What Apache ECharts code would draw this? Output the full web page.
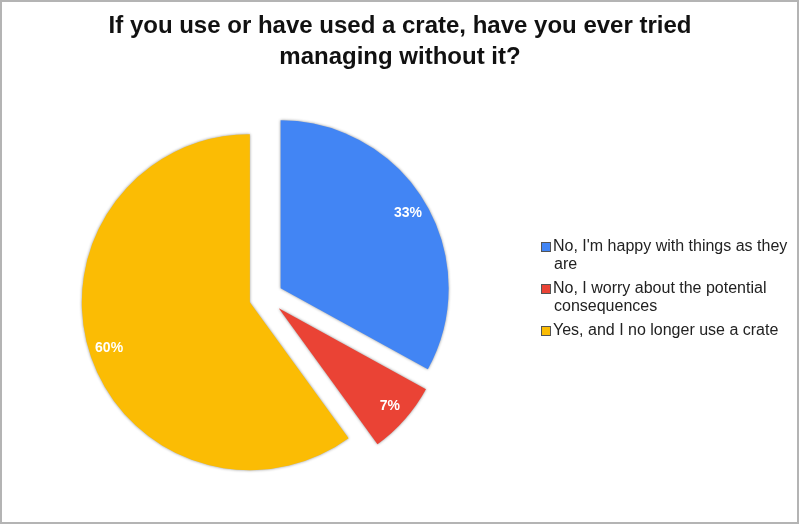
<!DOCTYPE html>
<html>
<head>
<meta charset="utf-8">
<script src="https://cdn.jsdelivr.net/npm/echarts@6/dist/echarts.min.js"></script>
<style>
html,body{margin:0;padding:0;background:#fff;}
#chart{width:800px;height:525px;}
</style>
</head>
<body>
<div id="chart"></div>
<script>
const titleLines = ['If you use or have used a crate, have you ever tried', 'managing without it?'];
const categories = ["No, I'm happy with things as they are", "No, I worry about the potential consequences", "Yes, and I no longer use a crate"];
const legendLines = [["No, I'm happy with things as they", "are"], ["No, I worry about the potential", "consequences"], ["Yes, and I no longer use a crate"]];
const values = [33, 7, 60];
const colors = ['#4285F4', '#EA4335', '#FBBC04'];

const chart = echarts.init(document.getElementById('chart'), null, {renderer: 'canvas'});

const pieData = categories.map((name, i) => ({
  name: name,
  value: values[i],
  selected: true,
  itemStyle: {color: colors[i]}
}));
const labelData = categories.map((name, i) => ({
  name: name,
  value: values[i],
  selected: true
}));

const rich = {
  t: {fontSize: 16, color: '#222', lineHeight: 18, fontFamily: 'Liberation Sans, Arial, sans-serif'},
  sp: {width: 12, height: 8}
};
colors.forEach((c, i) => {
  rich['b' + i] = {width: 8, height: 8, backgroundColor: c, borderColor: '#555', borderWidth: 1};
});
rich.g = {width: 3, height: 8};

const pieCenter = [266, 297];
const offset = 17;

chart.setOption({
  animation: false,
  backgroundColor: '#fff',
  title: {
    text: titleLines.join('\n'),
    left: 395,
    top: 6,
    textAlign: 'center',
    textStyle: {
      fontFamily: 'Liberation Sans, Arial, sans-serif',
      fontWeight: 'bold',
      fontSize: 24,
      lineHeight: 31,
      color: '#111'
    }
  },
  legend: {
    orient: 'vertical',
    left: 532,
    top: 233,
    icon: 'none',
    itemWidth: 0,
    itemHeight: 8,
    itemGap: 6,
    selectedMode: false,
    data: categories,
    formatter: function (name) {
      const i = categories.indexOf(name);
      const lines = legendLines[i];
      let s = '{b' + i + '|}{g|}{t|' + lines[0] + '}';
      for (let k = 1; k < lines.length; k++) {
        s += '\n{sp|}{t|' + lines[k] + '}';
      }
      return s;
    },
    textStyle: {rich: rich, fontSize: 16, lineHeight: 18, color: '#222'}
  },
  series: [
    {
      type: 'pie',
      center: pieCenter,
      radius: 168,
      startAngle: 90,
      clockwise: true,
      selectedMode: 'multiple',
      selectedOffset: offset,
      silent: true,
      label: {show: false},
      labelLine: {show: false},
      itemStyle: {
        shadowBlur: 3,
        shadowColor: 'rgba(0,0,0,0.45)'
      },
      emphasis: {disabled: true},
      data: pieData
    },
    {
      type: 'pie',
      center: pieCenter,
      radius: [122, 168],
      startAngle: 90,
      clockwise: true,
      selectedMode: 'multiple',
      selectedOffset: offset,
      silent: true,
      itemStyle: {color: 'rgba(0,0,0,0)'},
      emphasis: {disabled: true},
      label: {
        show: true,
        position: 'inside',
        formatter: '{c}%',
        color: '#fff',
        fontWeight: 'bold',
        fontSize: 14,
        fontFamily: 'Liberation Sans, Arial, sans-serif'
      },
      labelLine: {show: false},
      data: labelData
    }
  ],
  graphic: [{
    type: 'rect',
    silent: true,
    shape: {x: 1, y: 1, width: 797, height: 522},
    style: {fill: 'none', stroke: '#b4b4b4', lineWidth: 2},
    z: 100
  }]
});
</script>
</body>
</html>
